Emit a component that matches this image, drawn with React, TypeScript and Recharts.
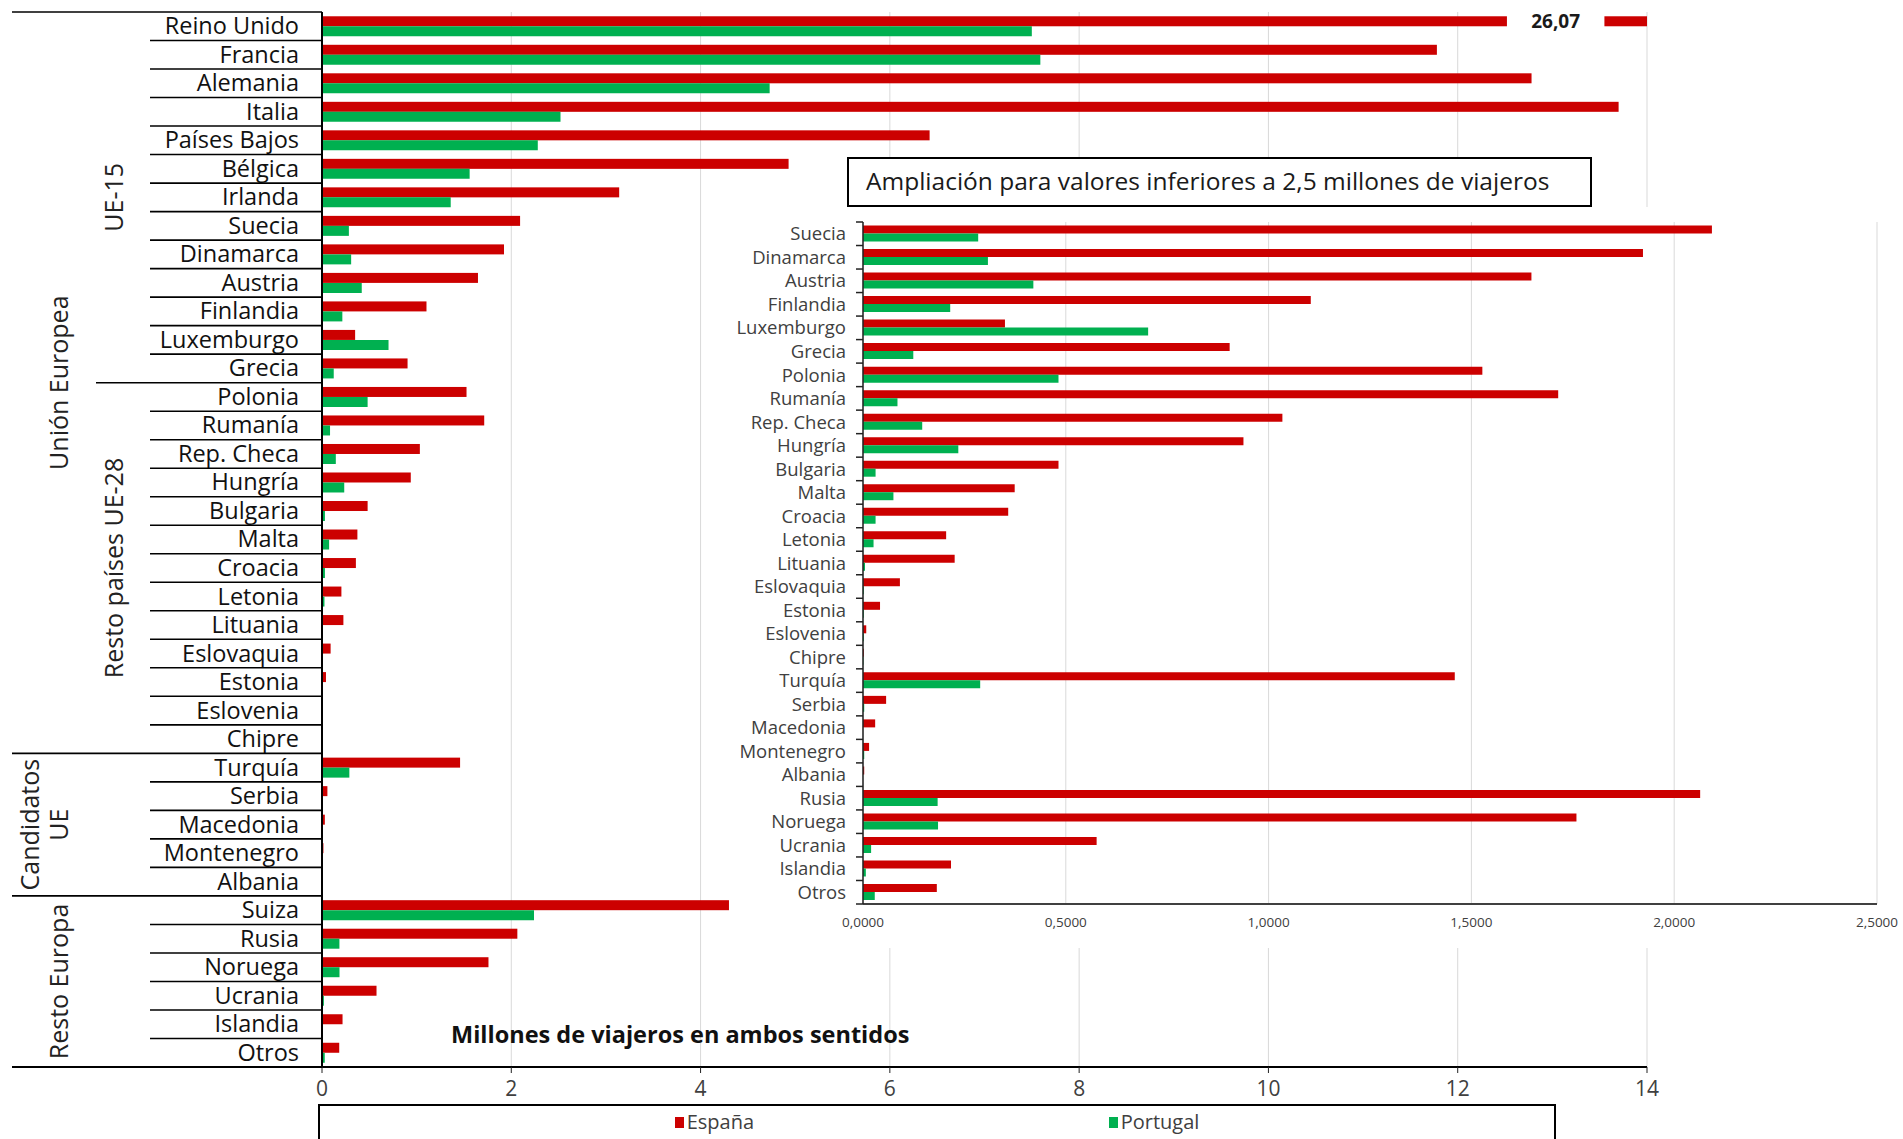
import { BarChart, Bar, XAxis, YAxis, CartesianGrid, Legend } from 'recharts'

const FONT = "'Open Sans', sans-serif"

const CATEGORIES = [
  'Reino Unido', 'Francia', 'Alemania', 'Italia', 'Países Bajos', 'Bélgica', 'Irlanda',
  'Suecia', 'Dinamarca', 'Austria', 'Finlandia', 'Luxemburgo', 'Grecia',
  'Polonia', 'Rumanía', 'Rep. Checa', 'Hungría', 'Bulgaria', 'Malta', 'Croacia',
  'Letonia', 'Lituania', 'Eslovaquia', 'Estonia', 'Eslovenia', 'Chipre',
  'Turquía', 'Serbia', 'Macedonia', 'Montenegro', 'Albania',
  'Suiza', 'Rusia', 'Noruega', 'Ucrania', 'Islandia', 'Otros',
]

// millones de viajeros
const ESPANA = [
  26.07, 11.78, 12.78, 13.7, 6.42, 4.93, 3.14,
  2.093, 1.923, 1.648, 1.104, 0.35, 0.904,
  1.527, 1.714, 1.034, 0.938, 0.482, 0.374, 0.358,
  0.205, 0.226, 0.091, 0.042, 0.008, 0.002,
  1.459, 0.057, 0.03, 0.015, 0.003,
  4.3, 2.064, 1.759, 0.576, 0.217, 0.182,
]

const PORTUGAL = [
  7.5, 7.59, 4.73, 2.52, 2.28, 1.56, 1.36,
  0.284, 0.308, 0.42, 0.215, 0.703, 0.124,
  0.482, 0.085, 0.146, 0.235, 0.031, 0.075, 0.031,
  0.026, 0.005, 0.002, 0.002, 0.002, 0.001,
  0.289, 0.003, 0, 0.003, 0,
  2.24, 0.184, 0.185, 0.02, 0.007, 0.029,
]

const GROUPS = [
  { lines: ['Unión Europea'], start: 0, count: 26, level: 0 },
  { lines: ['UE-15'], start: 0, count: 13, level: 1 },
  { lines: ['Resto países UE-28'], start: 13, count: 13, level: 1 },
  { lines: ['Candidatos', 'UE'], start: 26, count: 5, level: 0 },
  { lines: ['Resto Europa'], start: 31, count: 6, level: 0 },
]

const MAIN_TICKS = [0, 2, 4, 6, 8, 10, 12, 14]
const ZOOM_TICKS = [0, 0.5, 1, 1.5, 2, 2.5]
const MAIN_MAX = 14
const ZOOM_LIMIT = 2.5
const BREAK_FROM = 12.52
const BREAK_TO = 13.55

const RED = '#CC0000'
const GREEN = '#00B050'
const GRID = '#d9d9d9'

const mainData = CATEGORIES.map((name, i) => ({ name, espana: ESPANA[i], portugal: PORTUGAL[i] }))
const zoomData = mainData.filter((d) => d.espana < ZOOM_LIMIT)

const LEVEL_X = [59, 114]

function MainTick(props: any) {
  const { x, y, payload, index } = props
  const off = payload.offset ?? 14.25
  const axisX = x + 23
  const top = y - off
  const starts = GROUPS.filter((g) => g.start === index)
  const from = starts.some((g) => g.level === 0) ? 12 : starts.length ? 96 : 150
  const last = index === CATEGORIES.length - 1

  return (
    <g>
      <line x1={from} x2={axisX} y1={top} y2={top} stroke="#000" strokeWidth={1.6} />
      {last && <line x1={12} x2={axisX} y1={y + off} y2={y + off} stroke="#000" strokeWidth={2} />}
      <text x={x} y={y} dy="0.34em" textAnchor="end" fontSize={23.5} fill="#111" fontFamily={FONT}>
        {payload.value}
      </text>
      {starts.map((g) =>
        g.lines.map((line, k) => {
          const cx = LEVEL_X[g.level] - (g.lines.length - 1 - k) * 29
          const cy = top + g.count * off
          return (
            <text
              key={g.lines.join() + k}
              x={cx}
              y={cy}
              dy="0.36em"
              textAnchor="middle"
              transform={`rotate(-90, ${cx}, ${cy})`}
              fontSize={25}
              fill="#222"
              fontFamily={FONT}
            >
              {line}
            </text>
          )
        })
      )}
    </g>
  )
}

function ZoomTick(props: any) {
  const { x, y, payload, index } = props
  const off = payload.offset ?? 11.75
  const axisX = x + 17
  const last = index === zoomData.length - 1
  return (
    <g>
      <line x1={axisX - 7} x2={axisX} y1={y - off} y2={y - off} stroke="#222" strokeWidth={1.5} />
      {last && <line x1={axisX - 7} x2={axisX} y1={y + off} y2={y + off} stroke="#222" strokeWidth={1.5} />}
      <text x={x} y={y} dy="0.36em" textAnchor="end" fontSize={18.5} fill="#404040" fontFamily={FONT}>
        {payload.value}
      </text>
    </g>
  )
}

// España bar: values beyond the axis maximum are drawn with a break and their value
function BrokenBar(props: any) {
  const { x, y, width, height, fill, payload } = props
  const v = payload.espana
  if (v <= MAIN_MAX || !width) return <rect x={x} y={y} width={Math.max(width, 0)} height={height} fill={fill} />
  const unit = width / v
  const gapA = x + BREAK_FROM * unit
  const gapB = x + BREAK_TO * unit
  const end = x + MAIN_MAX * unit
  return (
    <g>
      <rect x={x} y={y} width={gapA - x} height={height} fill={fill} />
      <rect x={gapB} y={y} width={end - gapB} height={height} fill={fill} />
      <text
        x={(gapA + gapB) / 2}
        y={y + height / 2}
        dy="0.36em"
        textAnchor="middle"
        fontSize={19}
        fontWeight="bold"
        fill="#1a1a1a"
        fontFamily={FONT}
      >
        {v.toFixed(2).replace('.', ',')}
      </text>
    </g>
  )
}

function LegendBox({ payload }: any) {
  return (
    <div
      style={{
        boxSizing: 'border-box',
        width: '100%',
        height: 60,
        border: '2px solid #000',
        background: '#fff',
        display: 'flex',
        justifyContent: 'space-evenly',
        alignItems: 'flex-start',
        paddingTop: 3,
        fontFamily: FONT,
        fontSize: 20,
        lineHeight: '26px',
        color: '#404040',
      }}
    >
      {(payload || []).map((p: any) => (
        <span key={p.value} style={{ display: 'flex', alignItems: 'center' }}>
          <span style={{ width: 9, height: 11, background: p.color, marginRight: 3 }} />
          {p.value}
        </span>
      ))}
    </div>
  )
}

export default function App() {
  return (
    <div style={{ position: 'absolute', left: 0, top: 0, width: 1903, height: 1139, overflow: 'hidden', background: '#fff' }}>
      <div style={{ position: 'absolute', left: 0, top: 0 }}>
        <BarChart
          width={1903}
          height={1139}
          data={mainData}
          layout="vertical"
          margin={{ top: 12, right: 256, bottom: 42, left: 0 }}
          barCategoryGap="15%"
          barGap={0}
        >
          <CartesianGrid horizontal={false} stroke={GRID} />
          <XAxis
            type="number"
            domain={[0, MAIN_MAX]}
            ticks={MAIN_TICKS}
            allowDataOverflow
            height={30}
            axisLine={{ stroke: '#000', strokeWidth: 2 }}
            tickLine={{ stroke: '#222' }}
            tickSize={6}
            tickMargin={8}
            tick={{ fontSize: 21, fill: '#404040', fontFamily: FONT }}
          />
          <YAxis
            type="category"
            dataKey="name"
            width={322}
            interval={0}
            tickSize={0}
            tickMargin={23}
            tickLine={false}
            axisLine={{ stroke: '#000', strokeWidth: 2 }}
            tick={<MainTick />}
          />
          <Bar dataKey="espana" name="España" fill={RED} shape={<BrokenBar />} isAnimationActive={false} />
          <Bar dataKey="portugal" name="Portugal" fill={GREEN} isAnimationActive={false} />
          <Legend
            layout="vertical"
            align="center"
            verticalAlign="middle"
            wrapperStyle={{ left: 318, top: 1104, width: 1238, height: 60 }}
            content={<LegendBox />}
          />
        </BarChart>
      </div>

      <div
        style={{
          position: 'absolute',
          left: 451,
          top: 1018,
          fontFamily: FONT,
          fontWeight: 'bold',
          fontSize: 23.5,
          lineHeight: '32px',
          color: '#111',
          whiteSpace: 'nowrap',
        }}
      >
        Millones de viajeros en ambos sentidos
      </div>

      <div
        style={{
          position: 'absolute',
          left: 847,
          top: 157,
          width: 745,
          height: 50,
          boxSizing: 'border-box',
          border: '2px solid #000',
          background: '#fff',
          fontFamily: FONT,
          fontSize: 24.5,
          lineHeight: '44px',
          paddingLeft: 17,
          color: '#1a1a1a',
          whiteSpace: 'nowrap',
        }}
      >
        Ampliación para valores inferiores a 2,5 millones de viajeros
      </div>

      <div style={{ position: 'absolute', left: 735, top: 207, width: 1168, height: 741, background: '#fff' }} />

      <div style={{ position: 'absolute', left: 700, top: 207 }}>
        <BarChart
          width={1203}
          height={741}
          data={zoomData}
          layout="vertical"
          margin={{ top: 15, right: 26, bottom: 4, left: 0 }}
          barCategoryGap="15%"
          barGap={0}
        >
          <CartesianGrid horizontal={false} stroke={GRID} />
          <XAxis
            type="number"
            domain={[0, ZOOM_LIMIT]}
            ticks={ZOOM_TICKS}
            height={40}
            axisLine={{ stroke: '#404040', strokeWidth: 2 }}
            tickLine={false}
            tickSize={0}
            tickMargin={13}
            tickFormatter={(v: number) => v.toFixed(4).replace('.', ',')}
            tick={{ fontSize: 13.5, fill: '#404040', fontFamily: FONT }}
          />
          <YAxis
            type="category"
            dataKey="name"
            width={163}
            interval={0}
            tickSize={0}
            tickMargin={17}
            tickLine={false}
            axisLine={{ stroke: '#222', strokeWidth: 1.5 }}
            tick={<ZoomTick />}
          />
          <Bar dataKey="espana" name="España" fill={RED} isAnimationActive={false} />
          <Bar dataKey="portugal" name="Portugal" fill={GREEN} isAnimationActive={false} />
        </BarChart>
      </div>
    </div>
  )
}
